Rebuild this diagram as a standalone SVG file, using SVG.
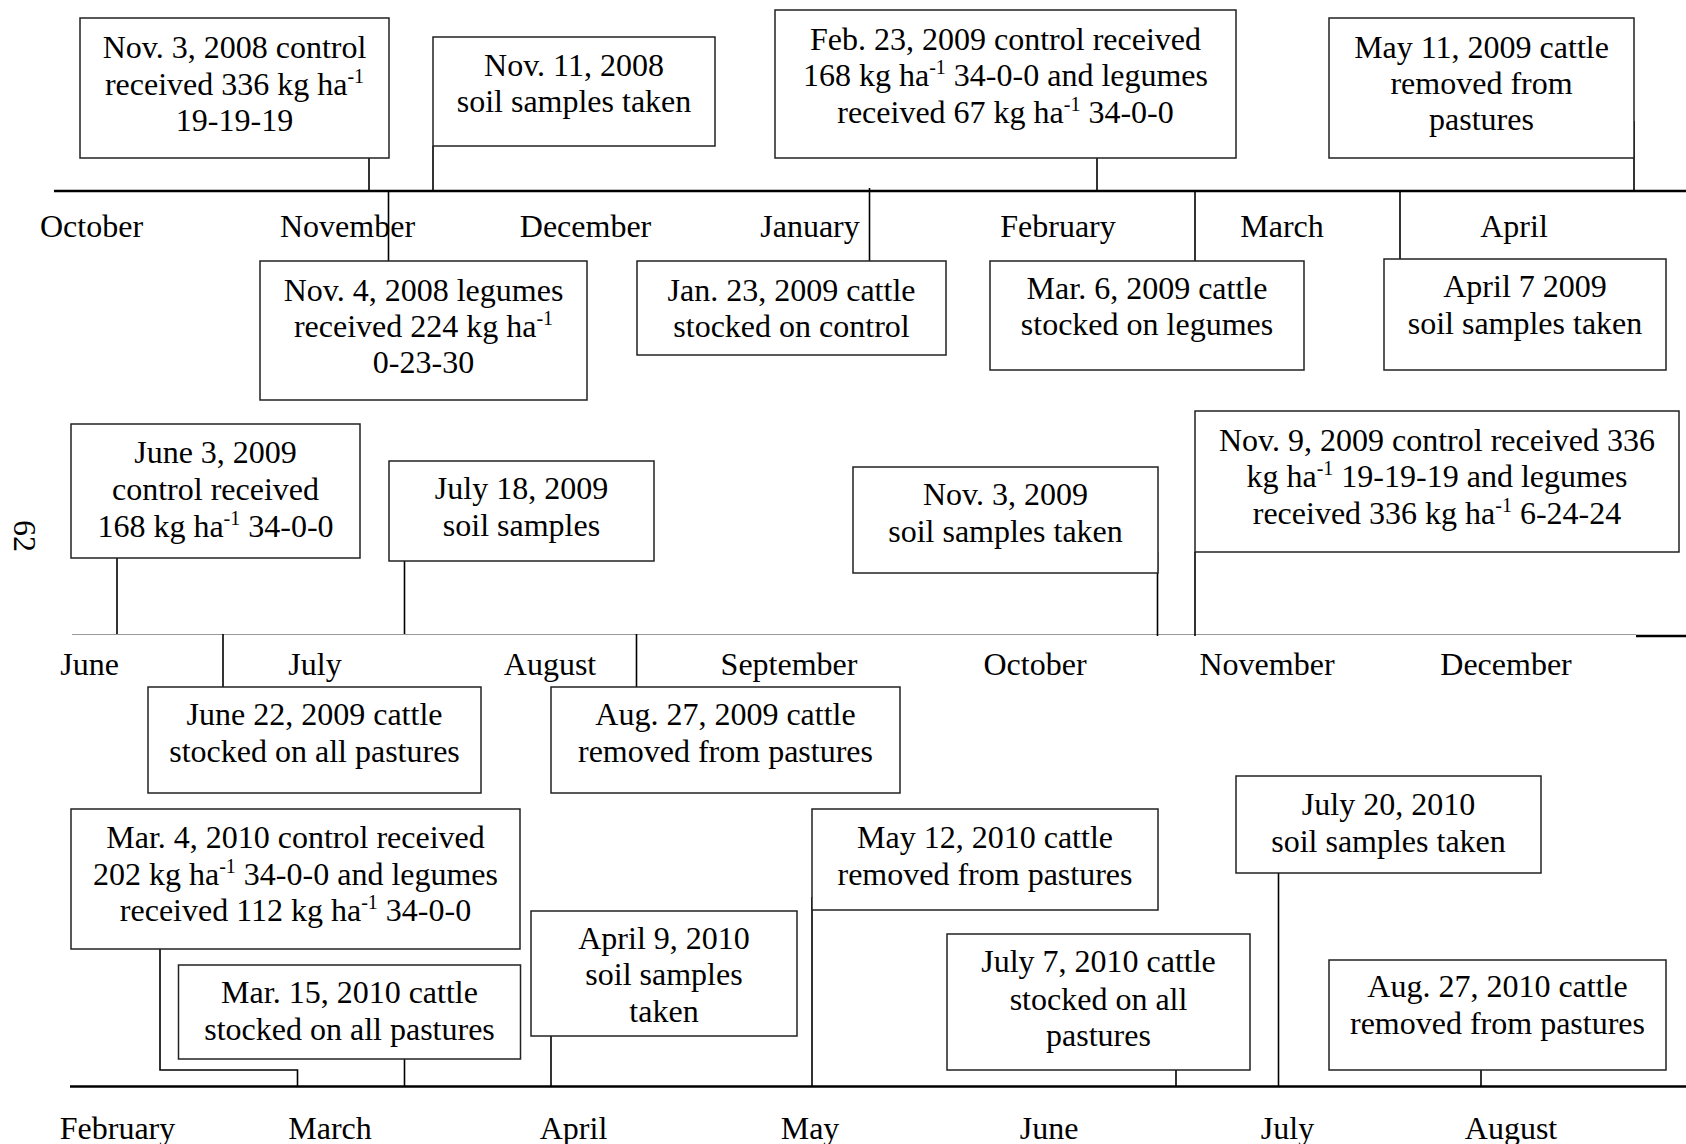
<svg xmlns="http://www.w3.org/2000/svg" width="1686" height="1144" viewBox="0 0 1686 1144">
<style>
.box{fill:#fff;stroke:#222;stroke-width:1.5}
.t{font-family:"Liberation Serif","Times New Roman",serif;font-size:32px;fill:#000;text-anchor:middle}
.s{font-size:20px}
.c{stroke:#000;stroke-width:1.6;fill:none}
.ax{stroke:#000;stroke-width:2.6}
.ax2{stroke:#999;stroke-width:1.2}
</style>
<rect width="1686" height="1144" fill="#fff"/>
<g id="axes">
<line class="ax" x1="54" y1="191" x2="1686" y2="191"/>
<line class="ax2" x1="72" y1="634.5" x2="1636" y2="634.5"/>
<line class="ax" x1="1636" y1="636" x2="1686" y2="636"/>
<line class="ax" x1="70" y1="1086.5" x2="1686" y2="1086.5"/>
</g>
<g id="connectors">
<line class="c" x1="369" y1="158" x2="369" y2="191"/>
<line class="c" x1="433" y1="146" x2="433" y2="191"/>
<line class="c" x1="388.5" y1="191" x2="388.5" y2="261"/>
<line class="c" x1="869.5" y1="188" x2="869.5" y2="261"/>
<line class="c" x1="1097" y1="158" x2="1097" y2="191"/>
<line class="c" x1="1634" y1="121" x2="1634" y2="191"/>
<line class="c" x1="1195" y1="191" x2="1195" y2="261"/>
<line class="c" x1="1400" y1="191" x2="1400" y2="262"/>
<line class="c" x1="117" y1="558" x2="117" y2="634"/>
<line class="c" x1="404.5" y1="561" x2="404.5" y2="634"/>
<line class="c" x1="223" y1="634" x2="223" y2="687"/>
<line class="c" x1="636.5" y1="634" x2="636.5" y2="687"/>
<line class="c" x1="1157.5" y1="552" x2="1157.5" y2="636"/>
<line class="c" x1="1195" y1="552" x2="1195" y2="636"/>
<polyline class="c" points="160,949 160,1070 297.5,1070 297.5,1086"/>
<line class="c" x1="404.5" y1="1059" x2="404.5" y2="1086"/>
<line class="c" x1="551" y1="1036" x2="551" y2="1086"/>
<line class="c" x1="812" y1="897" x2="812" y2="1086"/>
<line class="c" x1="1176" y1="1070" x2="1176" y2="1086"/>
<line class="c" x1="1278.5" y1="873" x2="1278.5" y2="1087"/>
<line class="c" x1="1481" y1="1070" x2="1481" y2="1086"/>
</g>
<g id="months">
<text class="t" x="91.5" y="237">October</text>
<text class="t" x="347.5" y="237">November</text>
<text class="t" x="585.5" y="237">December</text>
<text class="t" x="810" y="237">January</text>
<text class="t" x="1058" y="237">February</text>
<text class="t" x="1282" y="237">March</text>
<text class="t" x="1514" y="237">April</text>
<text class="t" x="89.5" y="675">June</text>
<text class="t" x="315" y="675">July</text>
<text class="t" x="550" y="675">August</text>
<text class="t" x="789" y="675">September</text>
<text class="t" x="1035" y="675">October</text>
<text class="t" x="1267" y="675">November</text>
<text class="t" x="1506" y="675">December</text>
<text class="t" x="117.5" y="1138.5">February</text>
<text class="t" x="330" y="1138.5">March</text>
<text class="t" x="573.5" y="1138.5">April</text>
<text class="t" x="810" y="1138.5">May</text>
<text class="t" x="1049" y="1138.5">June</text>
<text class="t" x="1287.5" y="1138.5">July</text>
<text class="t" x="1511" y="1138.5">August</text>
</g>
<text id="page" class="t" transform="translate(14,536) rotate(90)" x="0" y="0">62</text>
<g id="nodeA"><rect class="box" x="80" y="18" width="309" height="140"/>
<text class="t" x="234.5" y="58">Nov. 3, 2008 control</text>
<text class="t" x="234.5" y="95">received 336 kg ha<tspan class="s" dy="-12">-1</tspan></text>
<text class="t" x="234.5" y="131">19-19-19</text></g>
<g id="nodeB"><rect class="box" x="433" y="37" width="282" height="109"/>
<text class="t" x="574" y="75.5">Nov. 11, 2008</text>
<text class="t" x="574" y="111.5">soil samples taken</text></g>
<g id="nodeC"><rect class="box" x="260" y="261" width="327" height="139"/>
<text class="t" x="423.5" y="301">Nov. 4, 2008 legumes</text>
<text class="t" x="423.5" y="337">received 224 kg ha<tspan class="s" dy="-12">-1</tspan></text>
<text class="t" x="423.5" y="373">0-23-30</text></g>
<g id="nodeD"><rect class="box" x="637" y="261" width="309" height="94"/>
<text class="t" x="791.5" y="300.5">Jan. 23, 2009 cattle</text>
<text class="t" x="791.5" y="337">stocked on control</text></g>
<g id="nodeE"><rect class="box" x="775" y="10" width="461" height="148"/>
<text class="t" x="1005.5" y="49.5">Feb. 23, 2009 control received</text>
<text class="t" x="1005.5" y="86">168 kg ha<tspan class="s" dy="-12">-1</tspan><tspan dy="12"> 34-0-0 and legumes</tspan></text>
<text class="t" x="1005.5" y="122.5">received 67 kg ha<tspan class="s" dy="-12">-1</tspan><tspan dy="12"> 34-0-0</tspan></text></g>
<g id="nodeF"><rect class="box" x="1329" y="18" width="305" height="140"/>
<text class="t" x="1481.5" y="57.5">May 11, 2009 cattle</text>
<text class="t" x="1481.5" y="94">removed from</text>
<text class="t" x="1481.5" y="130">pastures</text></g>
<g id="nodeG"><rect class="box" x="990" y="261" width="314" height="109"/>
<text class="t" x="1147" y="298.5">Mar. 6, 2009 cattle</text>
<text class="t" x="1147" y="335">stocked on legumes</text></g>
<g id="nodeH"><rect class="box" x="1384" y="259" width="282" height="111"/>
<text class="t" x="1525" y="297">April 7 2009</text>
<text class="t" x="1525" y="333.5">soil samples taken</text></g>
<g id="nodeI"><rect class="box" x="71" y="424" width="289" height="134"/>
<text class="t" x="215.5" y="463">June 3, 2009</text>
<text class="t" x="215.5" y="500">control received</text>
<text class="t" x="215.5" y="537">168 kg ha<tspan class="s" dy="-12">-1</tspan><tspan dy="12"> 34-0-0</tspan></text></g>
<g id="nodeJ"><rect class="box" x="389" y="461" width="265" height="100"/>
<text class="t" x="521.5" y="499">July 18, 2009</text>
<text class="t" x="521.5" y="535.5">soil samples</text></g>
<g id="nodeK"><rect class="box" x="148" y="687" width="333" height="106"/>
<text class="t" x="314.5" y="725">June 22, 2009 cattle</text>
<text class="t" x="314.5" y="762">stocked on all pastures</text></g>
<g id="nodeL"><rect class="box" x="551" y="687" width="349" height="106"/>
<text class="t" x="725.5" y="725">Aug. 27, 2009 cattle</text>
<text class="t" x="725.5" y="762">removed from pastures</text></g>
<g id="nodeM"><rect class="box" x="853" y="467" width="305" height="106"/>
<text class="t" x="1005.5" y="505">Nov. 3, 2009</text>
<text class="t" x="1005.5" y="541.5">soil samples taken</text></g>
<g id="nodeN"><rect class="box" x="1195" y="411" width="484" height="141"/>
<text class="t" x="1437" y="450.5">Nov. 9, 2009 control received 336</text>
<text class="t" x="1437" y="487">kg ha<tspan class="s" dy="-12">-1</tspan><tspan dy="12"> 19-19-19 and legumes</tspan></text>
<text class="t" x="1437" y="523.5">received 336 kg ha<tspan class="s" dy="-12">-1</tspan><tspan dy="12"> 6-24-24</tspan></text></g>
<g id="nodeO"><rect class="box" x="71" y="809" width="449" height="140"/>
<text class="t" x="295.5" y="848">Mar. 4, 2010 control received</text>
<text class="t" x="295.5" y="884.5">202 kg ha<tspan class="s" dy="-12">-1</tspan><tspan dy="12"> 34-0-0 and legumes</tspan></text>
<text class="t" x="295.5" y="921">received 112 kg ha<tspan class="s" dy="-12">-1</tspan><tspan dy="12"> 34-0-0</tspan></text></g>
<g id="nodeP"><rect class="box" x="178.5" y="965" width="342" height="94"/>
<text class="t" x="349.5" y="1003">Mar. 15, 2010 cattle</text>
<text class="t" x="349.5" y="1040">stocked on all pastures</text></g>
<g id="nodeQ"><rect class="box" x="531" y="911" width="266" height="125"/>
<text class="t" x="664" y="948.5">April 9, 2010</text>
<text class="t" x="664" y="985">soil samples</text>
<text class="t" x="664" y="1021.5">taken</text></g>
<g id="nodeR"><rect class="box" x="812" y="809" width="346" height="101"/>
<text class="t" x="985" y="848">May 12, 2010 cattle</text>
<text class="t" x="985" y="885">removed from pastures</text></g>
<g id="nodeS"><rect class="box" x="947" y="934" width="303" height="136"/>
<text class="t" x="1098.5" y="972">July 7, 2010 cattle</text>
<text class="t" x="1098.5" y="1009.5">stocked on all</text>
<text class="t" x="1098.5" y="1046">pastures</text></g>
<g id="nodeT"><rect class="box" x="1236" y="776" width="305" height="97"/>
<text class="t" x="1388.5" y="815">July 20, 2010</text>
<text class="t" x="1388.5" y="851.5">soil samples taken</text></g>
<g id="nodeU"><rect class="box" x="1329" y="960" width="337" height="110"/>
<text class="t" x="1497.5" y="997">Aug. 27, 2010 cattle</text>
<text class="t" x="1497.5" y="1033.5">removed from pastures</text></g>
</svg>
